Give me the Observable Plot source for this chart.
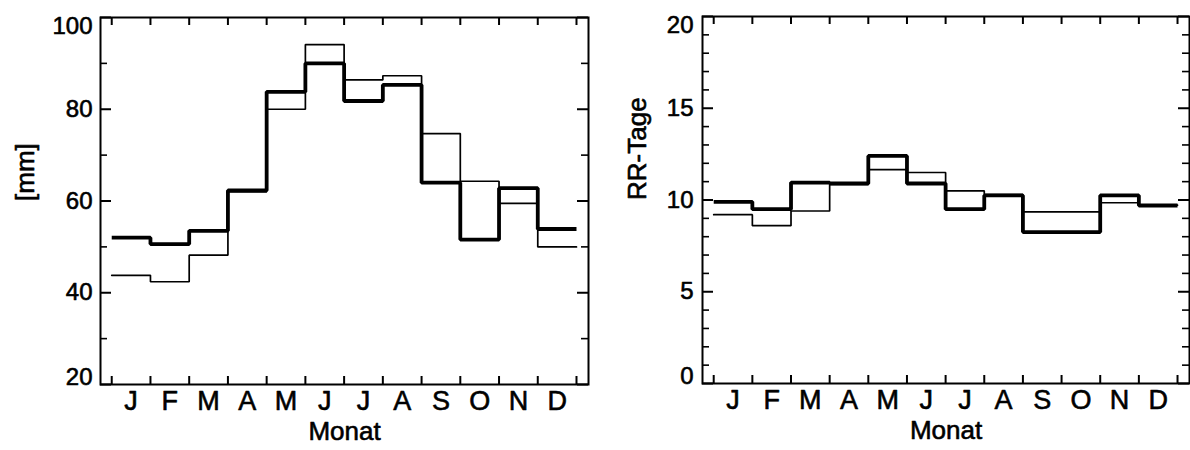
<!DOCTYPE html>
<html>
<head>
<meta charset="utf-8">
<script src="https://cdn.jsdelivr.net/npm/d3@7"></script>
<script src="https://cdn.jsdelivr.net/npm/@observablehq/plot@0.6"></script>
<style>
  html, body { margin: 0; padding: 0; background: #fff; }
  #wrap { display: flex; width: 1190px; height: 450px; }
  svg { overflow: visible; }
</style>
</head>
<body>
<div id="wrap"></div>
<script>
// Month labels
const months = ["J","F","M","A","M","J","J","A","S","O","N","D"];
// Left panel: precipitation [mm]
const precipThick = [52.0, 50.6, 53.5, 62.3, 83.8, 90.0, 81.8, 85.3, 64.0, 51.6, 62.8, 53.9];
const precipThin  = [43.8, 42.4, 48.2, 62.0, 80.0, 94.1, 86.4, 87.3, 74.7, 64.3, 59.5, 50.0];
// Right panel: precipitation days (RR-Tage)
const daysThick = [9.9, 9.5, 10.95, 10.9, 12.4, 10.9, 9.5, 10.25, 8.25, 8.25, 10.25, 9.7];
const daysThin  = [9.2, 8.6, 9.4, 10.85, 11.65, 11.5, 10.5, 10.3, 9.35, 9.35, 9.85, 9.72];
// Axis ticks
const precipMajor = [20, 40, 60, 80, 100];
const precipMinor = [30, 50, 70, 90];
const daysMajor = [0, 5, 10, 15, 20];
const daysMinor = [1,2,3,4,6,7,8,9,11,12,13,14,16,17,18,19];

const FONT = "'Liberation Sans', Arial, Helvetica, sans-serif";
const bounds = d3.range(0, 13).map(i => i + 0.5);
const XDOM = [0.21, 12.81];
const TXT = {fill: "black", stroke: "black", strokeWidth: 0.6};

function stepRows(vals) {
  const rows = vals.map((v, i) => ({x: i + 0.5, y: v}));
  rows.push({x: vals.length + 0.5, y: vals[vals.length - 1]});
  return rows;
}

function panel({thick, thin, yDomain, major, minor, yLabel, m, yLabelDx, tickDx}) {
  const W = 595, H = 450;
  const iw = W - m.left - m.right, ih = H - m.top - m.bottom;
  const lo = yDomain[0], hi = yDomain[1];
  const mid = major.filter(v => v !== lo && v !== hi);
  const py = (hi - lo) / ih;
  const px = (XDOM[1] - XDOM[0]) / iw;
  const xt = 8 * py, yMaj = 11 * px, yMin = 7 * px;
  return Plot.plot({
    width: W, height: H,
    marginLeft: m.left, marginRight: m.right, marginTop: m.top, marginBottom: m.bottom,
    x: {domain: XDOM, axis: null},
    y: {domain: yDomain, axis: null},
    style: {fontFamily: FONT, background: "white", color: "black", overflow: "visible"},
    marks: [
      // x ticks (inward, bottom and top)
      Plot.ruleX(bounds, {x: d => d, y1: lo, y2: lo + xt, stroke: "black", strokeWidth: 2}),
      Plot.ruleX(bounds, {x: d => d, y1: hi - xt, y2: hi, stroke: "black", strokeWidth: 2}),
      // y ticks (inward, left and right)
      Plot.ruleY(major, {y: d => d, x1: XDOM[0], x2: XDOM[0] + yMaj, stroke: "black", strokeWidth: 2}),
      Plot.ruleY(major, {y: d => d, x1: XDOM[1] - yMaj, x2: XDOM[1], stroke: "black", strokeWidth: 2}),
      Plot.ruleY(minor, {y: d => d, x1: XDOM[0], x2: XDOM[0] + yMin, stroke: "black", strokeWidth: 1.6}),
      Plot.ruleY(minor, {y: d => d, x1: XDOM[1] - yMin, x2: XDOM[1], stroke: "black", strokeWidth: 1.6}),
      // data step lines
      Plot.line(stepRows(thin), {x: "x", y: "y", curve: "step-after", stroke: "black", strokeWidth: 1.7, strokeLinejoin: "miter"}),
      Plot.line(stepRows(thick), {x: "x", y: "y", curve: "step-after", stroke: "black", strokeWidth: 3.8, strokeLinejoin: "miter", strokeLinecap: "butt"}),
      Plot.frame({stroke: "black", strokeWidth: 2}),
      // y tick labels
      Plot.text(mid, {y: d => d, text: d => String(d), frameAnchor: "left", textAnchor: "end", dx: tickDx, fontSize: 24, ...TXT}),
      Plot.text([hi], {y: d => d, text: d => String(d), frameAnchor: "left", textAnchor: "end", dx: tickDx, dy: 9, fontSize: 24, ...TXT}),
      Plot.text([lo], {y: d => d, text: d => String(d), frameAnchor: "left", textAnchor: "end", dx: tickDx, dy: -7, fontSize: 24, ...TXT}),
      // month labels
      Plot.text(months, {x: (d, i) => i + 1, text: d => d, frameAnchor: "bottom", dy: 25.5, fontSize: 27, ...TXT}),
      // axis titles
      Plot.text(["Monat"], {text: d => d, frameAnchor: "bottom", dy: 55, fontSize: 26, ...TXT}),
      Plot.text([yLabel], {text: d => d, frameAnchor: "left", dx: yLabelDx, rotate: -90, fontSize: 26, ...TXT})
    ]
  });
}

const wrap = document.getElementById("wrap");
wrap.appendChild(panel({
  thick: precipThick, thin: precipThin, yDomain: [20, 100],
  major: precipMajor, minor: precipMinor, yLabel: "[mm]",
  m: {left: 100, right: 7, top: 17, bottom: 66}, yLabelDx: -75, tickDx: -8
}));
wrap.appendChild(panel({
  thick: daysThick, thin: daysThin, yDomain: [0, 20],
  major: daysMajor, minor: daysMinor, yLabel: "RR-Tage",
  m: {left: 107, right: 1, top: 16, bottom: 67}, yLabelDx: -65, tickDx: -9
}));
</script>
</body>
</html>
